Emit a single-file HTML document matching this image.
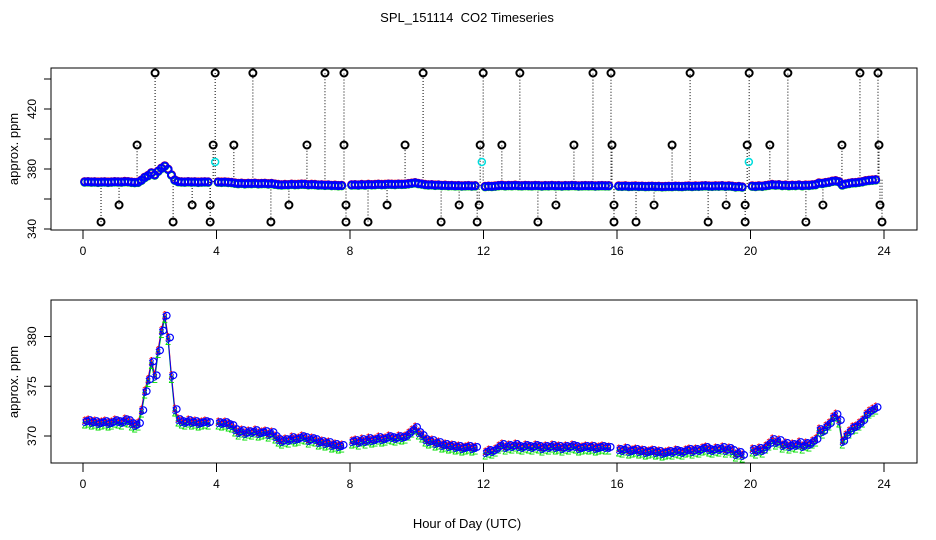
<!DOCTYPE html>
<html><head><meta charset="utf-8">
<style>
html,body{margin:0;padding:0;background:#fff;}
svg{display:block;font-family:"Liberation Sans",sans-serif;}
</style></head>
<body>
<svg id="chart" width="936" height="540" viewBox="0 0 936 540" xmlns="http://www.w3.org/2000/svg">
<rect width="936" height="540" fill="#fff"/>
<text x="467" y="22" font-size="13" text-anchor="middle" style="white-space:pre" xml:space="preserve">SPL_151114  CO2 Timeseries</text>
<text x="467" y="528" font-size="13" text-anchor="middle">Hour of Day (UTC)</text>
<g id="topPanel"></g>
<g id="botPanel"></g>
</svg>
<script>
// ---- data ----
const segStarts = [0.05, 4.05, 8.05, 12.05, 16.05, 20.05];
const segStep = 0.1;
const seg0 = [371.4,371.5,371.3,371.4,371.2,371.3,371.4,371.2,371.3,371.5,371.4,371.3,371.6,371.5,371.2,371.0,371.2,372.5,374.4,375.6,377.4,376.0,378.5,380.5,382.0,379.8,376.0,372.6,371.6,371.4,371.3,371.5,371.3,371.4,371.2,371.3,371.4,371.3];
const seg1 = [371.3,371.2,371.3,371.1,371.0,370.6,370.3,370.5,370.2,370.4,370.3,370.5,370.2,370.3,370.4,370.1,370.3,369.9,369.6,369.4,369.6,369.5,369.8,369.6,369.7,369.9,369.8,369.5,369.7,369.6,369.3,369.4,369.2,369.3,369.0,369.1,368.9,369.0];
const seg2 = [369.4,369.5,369.3,369.6,369.4,369.7,369.5,369.6,369.8,369.6,369.7,369.9,369.8,369.7,369.9,369.8,369.9,370.2,370.5,370.8,370.3,370.0,369.6,369.4,369.5,369.2,369.3,369.0,369.1,368.9,369.0,368.8,368.9,368.7,368.8,368.9,368.7,368.8];
const seg3 = [368.3,368.5,368.4,368.6,368.9,369.1,368.8,369.0,368.9,369.1,368.9,368.8,369.0,368.9,368.8,369.0,368.9,368.7,368.9,368.8,369.0,368.8,368.9,368.7,368.9,368.8,369.0,368.9,368.7,368.8,368.9,368.8,368.9,368.7,368.8,368.9,368.8,368.8];
const seg4 = [368.6,368.5,368.7,368.4,368.5,368.6,368.4,368.5,368.3,368.4,368.5,368.3,368.4,368.2,368.3,368.4,368.3,368.5,368.4,368.3,368.5,368.6,368.4,368.6,368.5,368.7,368.8,368.6,368.5,368.7,368.6,368.8,368.5,368.7,368.5,368.1,368.3,368.0];
const seg5 = [368.6,368.4,368.7,368.5,368.9,369.2,369.6,369.3,369.5,369.0,369.2,368.9,369.1,369.0,369.3,368.9,369.2,369.1,369.4,369.6,370.6,370.4,370.9,371.2,371.8,372.1,371.5,369.4,370.0,370.4,370.8,370.9,371.2,371.5,372.1,372.4,372.6,372.8];
const segments = [seg0, seg1, seg2, seg3, seg4, seg5];
const redOffset = 0.2;
const greenOffset = -0.25;
const spikeTop = [2.16,3.96,5.09,7.25,7.82,10.19,11.99,13.09,15.28,15.82,18.19,19.96,21.12,23.28,23.82];
const spike396 = [1.62,3.9,4.52,6.71,7.82,9.65,11.9,12.55,14.71,15.85,17.65,19.9,20.58,22.74,23.85];
const spike356 = [1.08,3.27,3.81,6.17,7.88,9.11,11.27,11.87,14.17,15.91,17.11,19.27,19.84,22.17,23.88];
const spike345 = [0.54,2.7,3.81,5.63,7.88,8.54,10.73,11.81,13.63,15.91,16.57,18.73,19.84,21.66,23.94];
const spikeLevels = [444, 396, 356, 344.7];
const cyanHours = [3.96, 11.95, 19.95];
const cyanValue = 384.7;
const xTicks = [0,4,8,12,16,20,24];
const topYTicks = [340,360,380,400,420,440];
const topYLabels = [340,380,420];
const botYTicks = [370,375,380];

// ---- scales ----
const X = h => 83 + h*33.375;
const Ytop = v => 229 - (v-340)*1.5;
const Ybot = v => 436 - (v-370)*9.95;
const NS = "http://www.w3.org/2000/svg";
function mk(parent, tag, attrs){const e=document.createElementNS(NS,tag);for(const k in attrs)e.setAttribute(k,attrs[k]);parent.appendChild(e);return e;}
function valAt(h){let best=null,bd=1e9;segments.forEach((s,si)=>s.forEach((v,i)=>{const d=Math.abs(segStarts[si]+i*segStep-h);if(d<bd){bd=d;best=v;}}));return best;}

function axes(g, y0, y1, yTicks, yLabels, Y, midY){
  const box = mk(g,'rect',{x:51,y:y0,width:866,height:y1-y0,fill:'none',stroke:'#000','stroke-width':1});
  
  
  xTicks.forEach(t=>{
    const l=mk(g,'line',{x1:X(t),x2:X(t),y1:y1,y2:y1+9,stroke:'#000'});
    
    
    const tx=mk(g,'text',{x:X(t),y:y1+25,'font-size':12,'text-anchor':'middle'});
    tx.textContent=t;
    
    
  });
  yTicks.forEach(t=>{
    const l=mk(g,'line',{x1:44,x2:51,y1:Y(t),y2:Y(t),stroke:'#000'});
    
    
  });
  yLabels.forEach(t=>{
    const tx=mk(g,'text',{x:0,y:0,'font-size':12,'text-anchor':'middle',transform:`translate(36,${Y(t)}) rotate(-90)`});
    tx.textContent=t;
    
    
  });
  const yt=mk(g,'text',{x:0,y:0,'font-size':13,'text-anchor':'middle',transform:`translate(18,${midY}) rotate(-90)`});
  yt.textContent='approx. ppm';
  
  
}

// ---- top panel ----
const topG = document.getElementById('topPanel');
axes(topG, 68, 230, topYTicks, topYLabels, Ytop, 149);
[spikeTop, spike396, spike356, spike345].forEach((arr, li)=>{
  arr.forEach(h=>{
    const lv=spikeLevels[li];
    const l=mk(topG,'line',{x1:X(h),x2:X(h),y1:Ytop(valAt(h)),y2:Ytop(lv),stroke:'#000','stroke-width':1,'stroke-dasharray':'1,2'});
    
    
    const c=mk(topG,'circle',{cx:X(h),cy:Ytop(lv),r:3.5,fill:'none',stroke:'#000','stroke-width':2});
    
    
  });
});
const colors=[['red',redOffset],['#00dd00',greenOffset],['blue',0]];
colors.forEach(([col,off])=>{
  segments.forEach((s,si)=>s.forEach((v,i)=>{
    const h=segStarts[si]+i*segStep;
    const c=mk(topG,'circle',{cx:X(h),cy:Ytop(v+off),r:3.5,fill:'none',stroke:col,'stroke-width':2});
    
    
  }));
});
cyanHours.forEach(h=>{
  const c=mk(topG,'circle',{cx:X(h),cy:Ytop(cyanValue),r:3.5,fill:'none',stroke:'#00dddd','stroke-width':1.5});
  
  
});

// ---- bottom panel ----
const botG = document.getElementById('botPanel');
axes(botG, 300, 463, botYTicks, botYTicks, Ybot, 382);
const glyphs=['1','2','3'];
colors.forEach(([col,off])=>{
  segments.forEach((s,si)=>{
    const pts=s.map((v,i)=>`${X(segStarts[si]+i*segStep).toFixed(1)},${Ybot(v+off).toFixed(1)}`).join(' ');
    const pl=mk(botG,'polyline',{points:pts,fill:'none',stroke:col,'stroke-width':1});
    
    
  });
});
colors.forEach(([col,off],ci)=>{
  segments.forEach((s,si)=>s.forEach((v,i)=>{
    const h=segStarts[si]+i*segStep;
    const t=mk(botG,'text',{x:X(h),y:Ybot(v+off)+4,'font-size':11,'text-anchor':'middle',fill:col});
    t.textContent=glyphs[ci];
    
    
    if(ci===2){
      const c=mk(botG,'circle',{cx:X(h)+2,cy:Ybot(v)-1,r:3.3,fill:'none',stroke:'blue','stroke-width':1.2});
      
      
    }
  }));
});
</script>
</body></html>
